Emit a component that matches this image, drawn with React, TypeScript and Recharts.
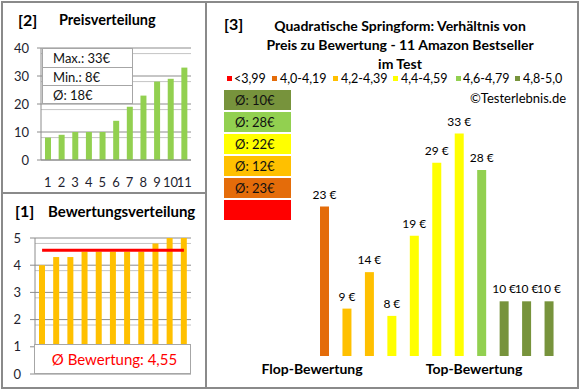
import React from 'react';
import { BarChart, Bar, ComposedChart, Line, XAxis, YAxis, CartesianGrid, Cell, LabelList } from 'recharts';

const FONT = "Lato, 'Open Sans', sans-serif";
const FRAME = '#8a8a8a';
const TICK_COLOR = '#1f1f2f';

// Panel [2] Preisverteilung
const priceRanks = ['1', '2', '3', '4', '5', '6', '7', '8', '9', '10', '11'];
const priceValues = [8, 9, 10, 10, 10, 14, 19, 23, 28, 29, 33];
const priceTicks = [0, 10, 20, 30, 40];
const priceMinorTicks = [2, 4, 6, 8, 12, 14, 16, 18, 22, 24, 26, 28, 32, 34, 36, 38];
const priceStats = ['Max.: 33€', 'Min.: 8€', 'Ø: 18€'];

// Panel [1] Bewertungsverteilung
const ratingValues = [4.0, 4.3, 4.3, 4.5, 4.5, 4.5, 4.5, 4.5, 4.8, 5.0, 5.0];
const ratingAverage = 4.55;
const ratingTicks = [0, 1, 2, 3, 4, 5];
const ratingMinorTicks = [0.2, 0.4, 0.6, 0.8, 1.2, 1.4, 1.6, 1.8, 2.2, 2.4, 2.6, 2.8, 3.2, 3.4, 3.6, 3.8, 4.2, 4.4, 4.6, 4.8];
const ratingLabel = 'Ø Bewertung: 4,55';

// Panel [3] Preis zu Bewertung
const ratioPrices = [23, 9, 14, 8, 19, 29, 33, 28, 10, 10, 10];
const ratioClass = [1, 2, 2, 3, 3, 3, 3, 4, 5, 5, 5];
const classLabels = ['<3,99', '4,0-4,19', '4,2-4,39', '4,4-4,59', '4,6-4,79', '4,8-5,0'];
const classColors = ['#FF0000', '#E46C0A', '#FFC000', '#FFFF00', '#92D050', '#77933C'];
const classAverages = ['', 'Ø: 23€', 'Ø: 12€', 'Ø: 22€', 'Ø: 28€', 'Ø: 10€'];
const titleLines = [
  'Quadratische Springform: Verhältnis von',
  'Preis zu Bewertung - 11 Amazon Bestseller',
  'im Test',
];
const axisCaptions = ['Flop-Bewertung', 'Top-Bewertung'];
const copyright = '©Testerlebnis.de';

const priceData = priceRanks.map((r, i) => ({ rank: r, price: priceValues[i] }));
const ratingData = ratingValues.map((v, i) => ({ idx: String(i + 1), rating: v, avg: ratingAverage }));
const ratioData = ratioPrices.map((p, i) => ({ idx: String(i + 1), price: p, cls: ratioClass[i] }));

// layout helpers (positions only)
const legendSquareX = [227, 272, 333, 393, 456, 515];
const legendTextX = [234, 280, 341, 401, 463, 523];

type TProps = {
  x: number; y: number; children: React.ReactNode; size?: number; bold?: boolean;
  color?: string; center?: boolean;
};
function T({ x, y, children, size = 13, bold = false, color = '#000', center = false }: TProps) {
  return (
    <div
      style={{
        position: 'absolute', left: x, top: y, fontSize: size, fontWeight: bold ? 700 : 400,
        color, lineHeight: 1, whiteSpace: 'nowrap',
        transform: center ? 'translate(-50%, -50%)' : 'translateY(-50%)',
      }}
    >
      {children}
    </div>
  );
}

function Box({ x, y, w, h, bg, border }: { x: number; y: number; w: number; h: number; bg: string; border?: string }) {
  return (
    <div style={{
      position: 'absolute', left: x, top: y, width: w, height: h, background: bg,
      boxSizing: 'border-box', border: border ? `1px solid ${border}` : 'none',
    }} />
  );
}

const tickStyle = { fontSize: 13, fill: TICK_COLOR, fontFamily: FONT };

export default function App() {
  return (
    <div style={{ position: 'absolute', left: 0, top: 0, width: 580, height: 390, background: '#fff', fontFamily: FONT, overflow: 'hidden' }}>
      {/* Panel [2] */}
      <div style={{ position: 'absolute', left: 0, top: 0 }}>
        <BarChart width={205} height={192} data={priceData} margin={{ top: 48, right: 14, bottom: 0, left: 0 }}>
          <CartesianGrid vertical={false} horizontalValues={priceMinorTicks} stroke="#c4c4c4" strokeWidth={1} />
          <CartesianGrid vertical={false} horizontalValues={priceTicks} stroke="#8c8c8c" strokeWidth={1} />
          <XAxis dataKey="rank" interval={0} tickLine={false} axisLine={{ stroke: '#8c8c8c' }} tickSize={6} tickMargin={12} height={32} tick={tickStyle} />
          <YAxis domain={[0, 40]} ticks={priceTicks} width={41} tickSize={4} tickMargin={8} axisLine={{ stroke: '#8c8c8c' }} tickLine={{ stroke: '#8c8c8c' }} tick={tickStyle} />
          <Bar dataKey="price" fill="#92D050" barSize={6} isAnimationActive={false} />
        </BarChart>
      </div>
      <div style={{ position: 'absolute', left: 42, top: 48, width: 91, background: '#fff', border: '1px solid #a6a6a6', boxSizing: 'border-box' }}>
        {priceStats.map((s, i) => (
          <div key={s} style={{
            height: i < 2 ? 18.5 : 17, borderBottom: i < 2 ? '1px solid #a6a6a6' : 'none', boxSizing: 'border-box',
            fontSize: 13, lineHeight: '18px', paddingLeft: 10, color: '#111', whiteSpace: 'nowrap',
          }}>{s}</div>
        ))}
      </div>
      <T x={18} y={20} size={16} bold>[2]</T>
      <T x={59} y={20} size={14.5} bold>Preisverteilung</T>

      {/* Panel [1] */}
      <div style={{ position: 'absolute', left: 0, top: 192 }}>
        <ComposedChart width={205} height={196} data={ratingData} margin={{ top: 46, right: 14, bottom: 14, left: 0 }}>
          <CartesianGrid vertical={false} horizontalValues={ratingMinorTicks} stroke="#c4c4c4" strokeWidth={1} />
          <CartesianGrid vertical={false} horizontalValues={ratingTicks} stroke="#8c8c8c" strokeWidth={1} />
          <XAxis dataKey="idx" hide />
          <YAxis domain={[0, 5]} ticks={ratingTicks} width={35} tickSize={5} tickMargin={9} axisLine={{ stroke: '#8c8c8c' }} tickLine={{ stroke: '#8c8c8c' }} tick={tickStyle} />
          <Bar dataKey="rating" fill="#FFC000" barSize={6} isAnimationActive={false} />
          <Line dataKey="avg" stroke="#FF0000" strokeWidth={3} dot={false} activeDot={false} isAnimationActive={false} />
        </ComposedChart>
      </div>
      <div style={{
        position: 'absolute', left: 34, top: 344, width: 157, height: 30, background: '#fff',
        border: '1px solid #a6a6a6', boxSizing: 'border-box', display: 'flex', alignItems: 'center', justifyContent: 'center',
        color: '#FF0000', fontSize: 15, whiteSpace: 'nowrap', paddingLeft: 4,
      }}>{ratingLabel}</div>
      <T x={15} y={211} size={16} bold>[1]</T>
      <T x={48} y={211} size={15} bold>Bewertungsverteilung</T>

      {/* Panel [3] */}
      <div style={{ position: 'absolute', left: 205, top: 0 }}>
        <BarChart width={375} height={390} data={ratioData} margin={{ top: 119, right: 20, bottom: 34, left: 108 }}>
          <XAxis dataKey="idx" hide />
          <YAxis domain={[2.5, 35]} hide allowDataOverflow />
          <Bar dataKey="price" barSize={9} isAnimationActive={false}>
            {ratioData.map((d) => (
              <Cell key={d.idx} fill={classColors[d.cls]} />
            ))}
            <LabelList dataKey="price" position="top" offset={8} formatter={(v: any) => `${v}\u202F€`}
              style={{ fontSize: 12, fill: '#000', fontFamily: FONT }} />
          </Bar>
        </BarChart>
      </div>
      <T x={224} y={24} size={16} bold>[3]</T>
      {titleLines.map((l, i) => (
        <T key={l} x={400} y={26 + i * 19} size={14} bold center>{l}</T>
      ))}
      {classLabels.map((l, i) => (
        <React.Fragment key={l}>
          <Box x={legendSquareX[i]} y={76} w={5} h={5} bg={classColors[i]} />
          <T x={legendTextX[i]} y={78.5} size={12.5}>{l}</T>
        </React.Fragment>
      ))}
      <div style={{ position: 'absolute', left: 224, top: 90, width: 67, display: 'flex', flexDirection: 'column', gap: 2 }}>
        {[5, 4, 3, 2, 1, 0].map((c) => (
          <div key={c} style={{
            height: 20, background: classColors[c], fontSize: 13, lineHeight: '20px', paddingLeft: 11,
            color: '#111', whiteSpace: 'nowrap',
          }}>{classAverages[c]}</div>
        ))}
      </div>
      <T x={470} y={98} size={13}>{copyright}</T>
      <T x={312} y={369} size={14} bold center>{axisCaptions[0]}</T>
      <T x={474} y={369} size={14} bold center>{axisCaptions[1]}</T>

      {/* frames */}
      <div style={{ position: 'absolute', left: 1, top: 1, width: 578, height: 388, boxSizing: 'border-box', border: `2px solid ${FRAME}` }} />
      <div style={{ position: 'absolute', left: 205, top: 1, width: 2, height: 388, background: FRAME }} />
      <div style={{ position: 'absolute', left: 1, top: 192, width: 205, height: 2, background: FRAME }} />
    </div>
  );
}
